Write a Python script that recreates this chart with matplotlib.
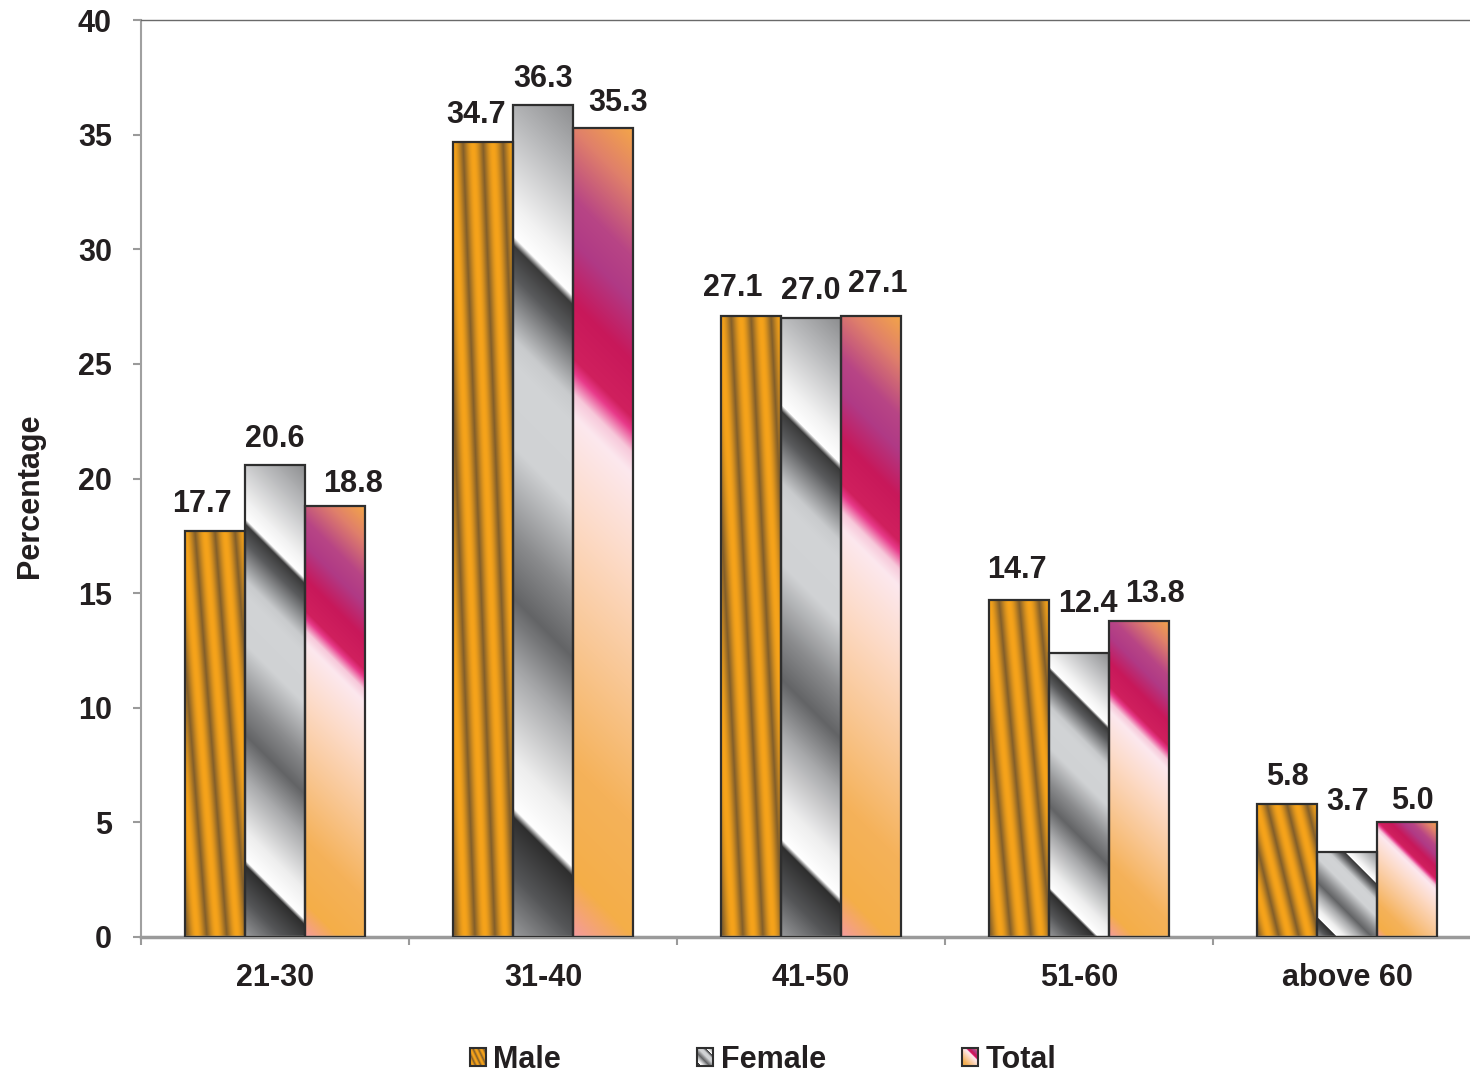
import numpy as np
import matplotlib.pyplot as plt
from matplotlib.patches import Patch
from matplotlib.colors import to_rgb

# data
groups = ['21-30', '31-40', '41-50', '51-60', 'above 60']
series = ['Male', 'Female', 'Total']
male = [17.7, 34.7, 27.1, 14.7, 5.8]
female = [20.6, 36.3, 27.0, 12.4, 3.7]
total = [18.8, 35.3, 27.1, 13.8, 5.0]

# label nudges in pixels (dx, dy above bar top)
label_dx = [[-13, 0, 18], [-7, 0, 15], [-18, 0, 7], [-2, 9, 16], [0, 1, 5]]
label_dy = [[19, 18, 14], [19, 18, 17], [20, 19, 24], [22, 41, 19], [19, 42, 13]]

plt.rcParams['font.family'] = ['Liberation Sans', 'DejaVu Sans']
plt.rcParams['font.weight'] = 'bold'
txt = '#231f20'

W, H = 1470, 1075
fig = plt.figure(figsize=(W / 100, H / 100), dpi=100)
ax_l, ax_b, ax_w, ax_h = 141, 138, 1340, 917
ax = fig.add_axes([ax_l / W, ax_b / H, ax_w / W, ax_h / H])

ymax = 40
px_x = ax_w / len(groups)
px_y = ax_h / ymax
bw = 60 / px_x

# gradient stops
female_stops = [(0.00, '#8c8d8f'), (0.08, '#b8b9bb'), (0.18, '#f2f2f2'), (0.215, '#ffffff'),
                (0.225, '#3a3a3a'), (0.26, '#5a5b5d'), (0.33, '#c9cbcd'), (0.36, '#d2d4d6'),
                (0.45, '#d0d2d4'), (0.55, '#8a8b8d'), (0.62, '#636466'), (0.70, '#a9aaac'),
                (0.80, '#eeeeee'), (0.855, '#ffffff'), (0.865, '#2e2e2e'), (0.93, '#555658'),
                (1.00, '#9a9b9d')]
total_stops = [(0.00, '#f4a648'), (0.07, '#e0806a'), (0.15, '#b84585'), (0.20, '#b03a86'),
               (0.27, '#c8185a'), (0.335, '#d0205e'), (0.35, '#e83a8a'), (0.375, '#f7c8da'),
               (0.40, '#fce8ee'), (0.50, '#fddccb'), (0.65, '#f9c794'), (0.80, '#f5b25a'),
               (0.93, '#f4ae48'), (1.00, '#f49aa0')]


def ramp(t, stops):
    pos = [s[0] for s in stops]
    cols = np.array([to_rgb(s[1]) for s in stops])
    return np.stack([np.interp(t, pos, cols[:, k]) for k in range(3)], axis=-1)


def fill(kind, w, h):
    w, h = max(int(round(w)), 2), max(int(round(h)), 2)
    x, y = np.meshgrid(np.arange(w) + 0.5, np.arange(h) + 0.5)
    if kind == 'Male':
        s = 3.0 * x / w - 1.6 * y / h
        c = (0.5 + 0.5 * np.cos(2 * np.pi * s)) ** 0.6
        dark, light = np.array(to_rgb('#85602a')), np.array(to_rgb('#f6a31a'))
        return dark + (light - dark) * c[..., None]
    t = (y - x + w) / (h + w)
    return ramp(t, female_stops if kind == 'Female' else total_stops)


vals = [male, female, total]
for j, name in enumerate(series):
    for i, v in enumerate(vals[j]):
        x0 = i + (j - 1) * bw - bw / 2
        ax.imshow(fill(name, 60, v * px_y), extent=(x0, x0 + bw, 0, v),
                  aspect='auto', interpolation='bilinear', zorder=2)
    ax.bar(np.arange(len(groups)) + (j - 1) * bw, vals[j], bw, fill=False,
           edgecolor='#2e2e2e', linewidth=1.6, zorder=3)
    for i, v in enumerate(vals[j]):
        ax.annotate(f'{v:.1f}', (i + (j - 1) * bw, v),
                    xytext=(label_dx[i][j], label_dy[i][j]), textcoords='offset pixels',
                    ha='center', va='baseline', fontsize=22, fontweight='bold', color=txt)

ax.set_xlim(-0.5, len(groups) - 0.5)
ax.set_ylim(0, ymax)
ax.set_yticks(np.arange(0, 41, 5))
ax.set_xticks(range(len(groups)))
ax.set_xticklabels(groups)
ax.set_xticks(np.arange(-0.5, len(groups), 1), minor=True)
ax.tick_params(axis='x', which='major', length=0, pad=19, labelsize=22, labelcolor=txt)
ax.tick_params(axis='x', which='minor', length=6, width=1.5, color='#9a9a9a', direction='out')
ax.tick_params(axis='y', length=6, width=1.5, color='#9a9a9a', pad=15, labelsize=22, labelcolor=txt)
for lab in ax.get_xticklabels() + ax.get_yticklabels():
    lab.set_fontweight('bold')

ax.spines['left'].set_color('#a0a0a0')
ax.spines['left'].set_linewidth(1.5)
ax.spines['bottom'].set_color('#9a9a9a')
ax.spines['bottom'].set_linewidth(2.5)
ax.spines['top'].set_color('#6a6a6a')
ax.spines['top'].set_linewidth(1.0)
ax.spines['right'].set_visible(False)

ax.set_ylabel('Percentage', fontsize=22, fontweight='bold', color=txt)
ax.yaxis.set_label_coords(-0.0716, 0.481)

handles = [Patch(facecolor='none', edgecolor='#2e2e2e', linewidth=1.5, label=s) for s in series]
leg = fig.legend(handles=handles, loc='center', bbox_to_anchor=(0.519, 15 / H), ncol=3,
                 frameon=False, fontsize=22, handlelength=0.52, handleheight=0.52,
                 handletextpad=0.25, columnspacing=4.45)
for t in leg.get_texts():
    t.set_fontweight('bold')
    t.set_color(txt)

fig.canvas.draw()
r = fig.canvas.get_renderer()
for name, hp in zip(series, leg.legend_handles):
    bb = hp.get_window_extent(r)
    img = fill(name, bb.width, bb.height)
    fig.figimage(img, xo=int(round(bb.x0)), yo=int(round(bb.y0)), origin='upper', zorder=1)

fig.savefig('out.png', dpi=100)
